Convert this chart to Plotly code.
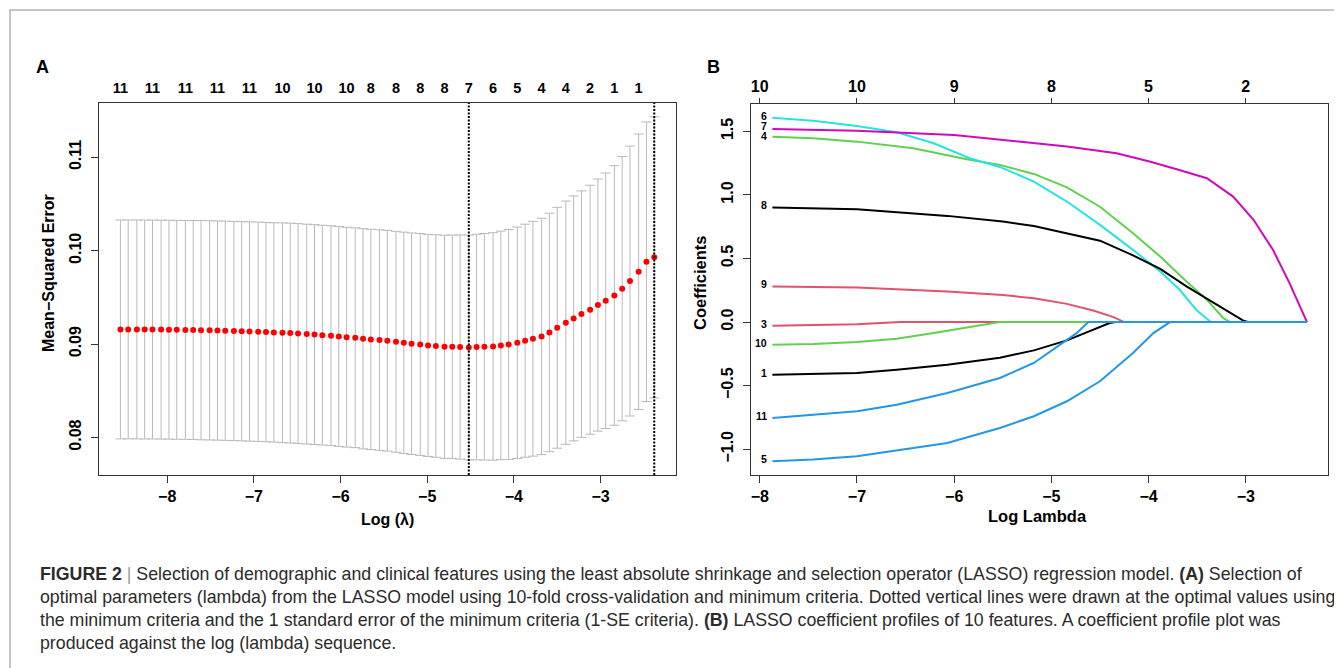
import numpy as np
import plotly.graph_objects as go

# the page body keeps the browser's 8px margin, so the figure is drawn 8px in
OFF = 8
W, H = 1342 - OFF, 668 - OFF
FONT = "Liberation Sans, Arial, sans-serif"

# ---------- Panel A : cross-validation curve ----------
log_lambda = [-8.54, -8.45, -8.35, -8.26, -8.17, -8.07, -7.98, -7.89, -7.79, -7.70,
              -7.61, -7.51, -7.42, -7.33, -7.23, -7.14, -7.05, -6.95, -6.86, -6.77,
              -6.67, -6.58, -6.49, -6.39, -6.30, -6.21, -6.11, -6.02, -5.93, -5.83,
              -5.74, -5.65, -5.55, -5.46, -5.36, -5.27, -5.18, -5.08, -4.99, -4.90,
              -4.80, -4.71, -4.62, -4.52, -4.43, -4.34, -4.24, -4.15, -4.06, -3.96,
              -3.87, -3.78, -3.68, -3.59, -3.50, -3.40, -3.31, -3.22, -3.12, -3.03,
              -2.94, -2.84, -2.75, -2.66, -2.56, -2.47, -2.38]

cv_mse = [0.09157, 0.09157, 0.09157, 0.09156, 0.09156, 0.09155, 0.09154, 0.09153, 0.09152, 0.09151,
          0.09149, 0.09147, 0.09145, 0.09143, 0.09140, 0.09138, 0.09135, 0.09132, 0.09129, 0.09125,
          0.09122, 0.09118, 0.09113, 0.09107, 0.09102, 0.09096, 0.09090, 0.09082, 0.09074, 0.09068,
          0.09057, 0.09050, 0.09043, 0.09036, 0.09025, 0.09014, 0.09004, 0.08996, 0.08986, 0.08979,
          0.08971, 0.08971, 0.08968, 0.08964, 0.08968, 0.08971, 0.08975, 0.08986, 0.08996, 0.09014,
          0.09036, 0.09057, 0.09082, 0.09125, 0.09175, 0.09229, 0.09275, 0.09321, 0.09368, 0.09418,
          0.09464, 0.09521, 0.09593, 0.09675, 0.09775, 0.09882, 0.09929]

cv_se = [0.01172] * 10 + [0.01174] * 10 + [0.01177] * 10 + [
    0.01179, 0.01180, 0.01181, 0.01182, 0.01183, 0.01185, 0.01186, 0.01188, 0.01189, 0.01191,
    0.01194, 0.01197, 0.01200, 0.01204, 0.01208, 0.01213, 0.01218, 0.01224, 0.01231, 0.01240,
    0.01248, 0.01257, 0.01266, 0.01277, 0.01290, 0.01303, 0.01312, 0.01320, 0.01333, 0.01350,
    0.01368, 0.01390, 0.01415, 0.01445, 0.01475, 0.01497, 0.01505]

# number of non-zero coefficients shown on the top axis (R drops overlapping labels)
top_idx = [0, 4, 8, 12, 16, 20, 24, 28, 31, 34, 37, 40, 43, 46, 49, 52, 55, 58, 61, 64]
top_nz = ["11", "11", "11", "11", "11", "10", "10", "10", "8", "8",
          "8", "8", "7", "6", "5", "4", "4", "2", "1", "1"]

# ---------- Panel B : coefficient paths ----------
v1_x = [-7.87, -7.45, -7.0, -6.59, -6.07, -5.53, -5.18, -4.84, -4.57, -4.40, -4.34, -2.37]
v1_y = [-0.414, -0.409, -0.401, -0.375, -0.335, -0.280, -0.223, -0.144, -0.060, -0.008, 0.0, 0.0]
v3_x = [-7.87, -7.45, -7.0, -6.76, -6.55, -2.37]
v3_y = [-0.029, -0.026, -0.018, -0.008, 0.0, 0.0]
v4_x = [-7.87, -7.45, -7.0, -6.42, -5.87, -5.53, -5.18, -4.84, -4.50, -4.16, -3.88, -3.61, -3.40, -3.23, -3.16, -2.37]
v4_y = [1.458, 1.445, 1.419, 1.367, 1.280, 1.236, 1.165, 1.059, 0.907, 0.698, 0.515, 0.319, 0.175, 0.031, 0.0, 0.0]
v5_x = [-7.87, -7.45, -7.0, -6.59, -6.07, -5.53, -5.18, -4.84, -4.50, -4.16, -3.95, -3.78, -2.37]
v5_y = [-1.095, -1.082, -1.056, -1.010, -0.951, -0.833, -0.741, -0.623, -0.466, -0.244, -0.087, 0.0, 0.0]
v6_x = [-7.87, -7.45, -7.0, -6.59, -6.21, -5.84, -5.53, -5.18, -4.84, -4.50, -4.16, -3.88, -3.68, -3.51, -3.40, -3.36, -2.37]
v6_y = [1.607, 1.584, 1.542, 1.492, 1.406, 1.288, 1.220, 1.105, 0.948, 0.764, 0.568, 0.398, 0.254, 0.097, 0.026, 0.0, 0.0]
v7_x = [-7.87, -7.0, -6.0, -5.5, -4.84, -4.33, -3.99, -3.71, -3.40, -3.13, -2.92, -2.72, -2.55, -2.37]
v7_y = [1.518, 1.505, 1.471, 1.430, 1.380, 1.328, 1.263, 1.202, 1.131, 0.987, 0.804, 0.568, 0.306, 0.0]
v8_x = [-7.87, -7.0, -6.07, -5.5, -5.18, -4.84, -4.50, -4.16, -3.88, -3.61, -3.33, -3.13, -3.03, -2.98, -2.37]
v8_y = [0.901, 0.888, 0.835, 0.790, 0.756, 0.698, 0.640, 0.525, 0.418, 0.280, 0.149, 0.057, 0.013, 0.0, 0.0]
v9_x = [-7.87, -7.0, -6.07, -5.5, -5.18, -4.84, -4.57, -4.36, -4.25, -2.37]
v9_y = [0.280, 0.272, 0.241, 0.212, 0.188, 0.143, 0.091, 0.039, 0.0, 0.0]
v10_x = [-7.87, -7.45, -7.0, -6.59, -6.21, -5.87, -5.60, -5.53, -2.37]
v10_y = [-0.178, -0.173, -0.157, -0.131, -0.087, -0.042, -0.008, 0.0, 0.0]
v11_x = [-7.87, -7.45, -7.0, -6.59, -6.07, -5.53, -5.18, -4.91, -4.74, -4.62, -2.37]
v11_y = [-0.754, -0.728, -0.702, -0.650, -0.558, -0.440, -0.322, -0.178, -0.087, 0.0, 0.0]

b_top_ticks = [-8, -7, -6, -5, -4, -3]
b_top_df = ["10", "10", "9", "8", "5", "2"]

# R palette, cycled over the non-zero variables (variable 2 stays at zero)
paths = [("1", v1_x, v1_y, "#000000"), ("3", v3_x, v3_y, "#DF536B"),
         ("4", v4_x, v4_y, "#61D04F"), ("5", v5_x, v5_y, "#2297E6"),
         ("6", v6_x, v6_y, "#28E2E5"), ("7", v7_x, v7_y, "#CD0BBC"),
         ("8", v8_x, v8_y, "#000000"), ("9", v9_x, v9_y, "#DF536B"),
         ("10", v10_x, v10_y, "#61D04F"), ("11", v11_x, v11_y, "#2297E6")]

caption = [
    "<b>FIGURE 2</b> <span style='color:#9a9a9a'>|</span> Selection of demographic and clinical features using the least absolute shrinkage and selection operator (LASSO) regression model. <b>(A)</b> Selection of",
    "optimal parameters (lambda) from the LASSO model using 10-fold cross-validation and minimum criteria. Dotted vertical lines were drawn at the optimal values using",
    "the minimum criteria and the 1 standard error of the minimum criteria (1-SE criteria). <b>(B)</b> LASSO coefficient profiles of 10 features. A coefficient profile plot was",
    "produced against the log (lambda) sequence.",
]


def px_x(v):
    return (v - OFF) / W


def px_y(v):
    return 1 - (v - OFF) / H


def minus(v):
    return f"{v}".replace("-", "\u2212")


fig = go.Figure()

fig.add_trace(go.Scatter(
    x=log_lambda, y=cv_mse, mode="markers", xaxis="x", yaxis="y",
    marker=dict(color="red", size=6),
    error_y=dict(type="data", array=cv_se, color="#b9b9b9", thickness=1, width=5),
    hoverinfo="skip"))

for name, xs, ys, col in paths:
    fig.add_trace(go.Scatter(x=xs, y=ys, mode="lines", xaxis="x2", yaxis="y2",
                             line=dict(color=col, width=2), name=name, hoverinfo="skip"))

# invisible traces so the two top axes get drawn
fig.add_trace(go.Scatter(x=[log_lambda[0]], y=[cv_mse[0]], xaxis="x3", yaxis="y", mode="markers",
                         marker=dict(opacity=0), hoverinfo="skip"))
fig.add_trace(go.Scatter(x=[v1_x[0]], y=[v1_y[0]], xaxis="x4", yaxis="y2", mode="markers",
                         marker=dict(opacity=0), hoverinfo="skip"))

# lambda.min and lambda.1se
i_min = int(np.argmin(cv_mse))
thr = cv_mse[i_min] + cv_se[i_min]
i_1se = max(i for i, m in enumerate(cv_mse) if m <= thr)

shapes = []
for i in (i_min, i_1se):
    shapes.append(dict(type="line", xref="x", yref="y domain", x0=log_lambda[i], x1=log_lambda[i],
                       y0=0, y1=1, line=dict(color="black", width=2, dash="2px,1.5px")))
# outer frame of the figure page
shapes.append(dict(type="rect", xref="paper", yref="paper", x0=px_x(10), x1=1.05,
                   y0=-0.2, y1=px_y(10), line=dict(color="#b3b3b3", width=1.5)))

tick_font = dict(family=FONT, size=16, color="black", weight="bold")
axis_common = dict(showgrid=False, zeroline=False, showline=True, linecolor="#333333",
                   linewidth=1.2, mirror=True, ticks="outside", ticklen=7, tickwidth=1.2,
                   tickcolor="#333333", tickfont=tick_font)

xr_a = [-8.787, -2.129]
xr_b = [-8.09, -2.154]
yr_b = [-1.203, 1.715]
b_top, b_bottom = 104, 475

fig.update_layout(
    width=W, height=H, margin=dict(l=0, r=0, t=0, b=0),
    paper_bgcolor="white", plot_bgcolor="white", showlegend=False,
    shapes=shapes,
    xaxis=dict(domain=[px_x(99), px_x(676)], range=xr_a, anchor="y",
               tickvals=[-8, -7, -6, -5, -4, -3], ticktext=[minus(t) for t in [-8, -7, -6, -5, -4, -3]],
               **axis_common),
    yaxis=dict(domain=[px_y(475), px_y(103)], range=[0.07598, 0.11582], anchor="x",
               tickvals=[0.08, 0.09, 0.10, 0.11], ticktext=["0.08", "0.09", "0.10", "0.11"],
               tickangle=-90, ticklabelstandoff=4, **axis_common),
    xaxis3=dict(overlaying="x", side="top", anchor="y", range=xr_a, showgrid=False, zeroline=False,
                showline=False, ticks="", tickvals=[log_lambda[i] for i in top_idx], ticktext=top_nz,
                tickfont=dict(family=FONT, size=14.5, color="black", weight="bold"),
                ticklabelstandoff=6),
    xaxis2=dict(domain=[px_x(751), px_x(1328)], range=xr_b, anchor="y2",
                tickvals=[-8, -7, -6, -5, -4, -3], ticktext=[minus(t) for t in [-8, -7, -6, -5, -4, -3]],
                **axis_common),
    yaxis2=dict(domain=[px_y(b_bottom), px_y(b_top)], range=yr_b, anchor="x2",
                tickvals=[-1.0, -0.5, 0.0, 0.5, 1.0, 1.5],
                ticktext=["\u22121.0", "\u22120.5", "0.0", "0.5", "1.0", "1.5"],
                tickangle=-90, ticklabelstandoff=4, **axis_common),
    xaxis4=dict(overlaying="x2", side="top", anchor="y2", range=xr_b, showgrid=False, zeroline=False,
                showline=False, ticks="outside", ticklen=5, tickwidth=1.2, tickcolor="#333333",
                tickvals=b_top_ticks, ticktext=b_top_df,
                tickfont=dict(family=FONT, size=16, color="black", weight="bold")),
)

ann = []


def label(text, x, y, size=16, angle=0, weight="bold", color="black", xanchor="center"):
    ann.append(dict(text=text, x=px_x(x), y=px_y(y), xref="paper", yref="paper",
                    xanchor=xanchor, yanchor="middle", textangle=angle, showarrow=False,
                    font=dict(family=FONT, size=size, color=color, weight=weight)))


label("A", 42, 67, size=18)
label("B", 713, 67, size=18)
label("Mean\u2212Squared Error", 48, 273, angle=-90)
label("Log (\u03bb)", 387, 519)
label("Coefficients", 700, 283, size=16.5, angle=-90)
label("Log Lambda", 1037, 516, size=16.5)

# variable labels at the left end of each path, nudged apart a little where they crowd
px_per_unit = (b_bottom - b_top) / (yr_b[1] - yr_b[0])
order = sorted(paths, key=lambda p: -p[2][0])
pos = [b_top + (yr_b[1] - p[2][0]) * px_per_unit - 2 for p in order]
for _ in range(20):
    for j in range(len(pos) - 1):
        gap = pos[j + 1] - pos[j]
        if gap < 9.3:
            d = (9.3 - gap) / 2
            pos[j] -= d
            pos[j + 1] += d
for (name, xs, ys, col), py in zip(order, pos):
    ann.append(dict(text=name, x=xs[0], y=yr_b[1] - (py - b_top) / px_per_unit, xref="x2", yref="y2",
                    xanchor="right", yanchor="middle", xshift=-3, showarrow=False,
                    font=dict(family=FONT, size=10.5, color="black", weight="bold")))

for k, line in enumerate(caption):
    label(line, 38, 574 + 23 * k, size=17.75, weight="normal", color="#2b2b2b", xanchor="left")

fig.update_layout(annotations=ann)

fig.write_html("out.html")
